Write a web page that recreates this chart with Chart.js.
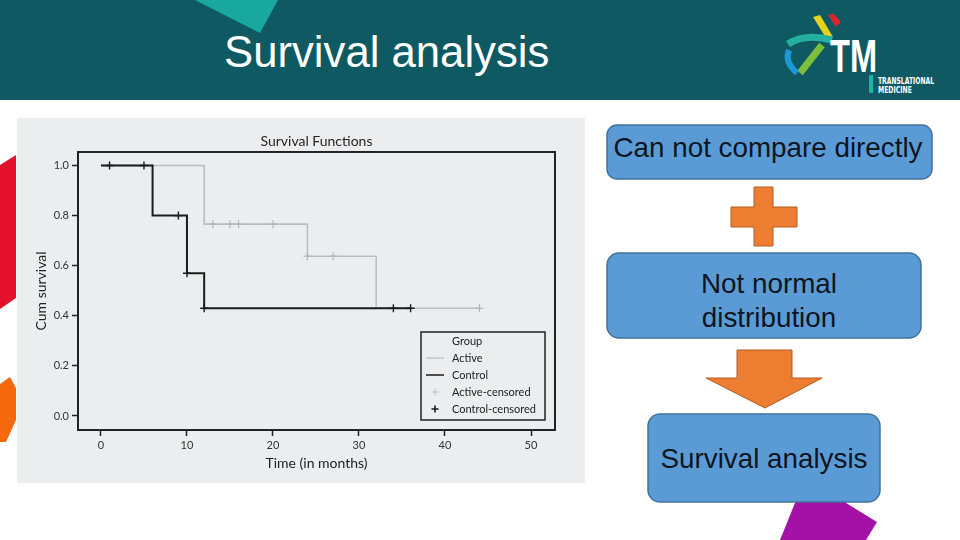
<!DOCTYPE html>
<html>
<head>
<meta charset="utf-8">
<script src="https://cdn.jsdelivr.net/npm/chart.js@4.4.1/dist/chart.umd.min.js"></script>
<style>
  html, body { margin: 0; padding: 0; background: #ffffff; }
  #page { position: relative; width: 960px; height: 540px; overflow: hidden; }
  #deco { position: absolute; left: 0; top: 0; }
  #kmChart { position: absolute; left: 17px; top: 118px; background: #ebedef; }
</style>
</head>
<body>
<div id="page">
  <svg id="deco" width="960" height="540" xmlns="http://www.w3.org/2000/svg">
    <!-- header -->
    <rect x="0" y="0" width="960" height="100" fill="#0f5a62"/>
    <polygon points="195,0 278,0 260,33" fill="#19a8a0"/>
    <text x="224" y="67" font-family="Liberation Sans, Arial, sans-serif" font-size="43.7" fill="#ffffff">Survival analysis</text>

    <!-- logo -->
    <polygon points="828,15 834,14 841,22 836,27" fill="#d8262e"/>
    <polygon points="813,17 820,15 833,37 826,38" fill="#e5d21c"/>
    <path d="M788,44 Q805,33 832,40" stroke="#23b0a0" stroke-width="7" fill="none"/>
    <path d="M822,45 L800,73" stroke="#7cbf3a" stroke-width="7" fill="none"/>
    <path d="M789,50 Q784,62 797,73" stroke="#1c9ad6" stroke-width="6" fill="none"/>
    <text x="830" y="72" font-family="Liberation Sans, Arial, sans-serif" font-weight="bold" font-size="46" textLength="47" lengthAdjust="spacingAndGlyphs" fill="#ffffff">TM</text>
    <rect x="869" y="75" width="4" height="18" fill="#1fb5a5"/>
    <text x="878" y="83.5" font-family="DejaVu Sans, sans-serif" font-weight="bold" font-size="8.5" textLength="56" lengthAdjust="spacingAndGlyphs" fill="#ffffff">TRANSLATIONAL</text>
    <text x="878" y="93" font-family="DejaVu Sans, sans-serif" font-weight="bold" font-size="8.5" textLength="34" lengthAdjust="spacingAndGlyphs" fill="#ffffff">MEDICINE</text>

    <!-- side shapes -->
    <polygon points="0,165 16,155 16,298 0,309" fill="#e3102e"/>
    <polygon points="0,384 10,377 16,388 16,420 6,442 0,442" fill="#f5690d"/>
    <polygon points="797,498 838,498 877,522 866,540 780,540" fill="#a411a6"/>

    <!-- flow chart -->
    <rect x="607" y="125" width="325" height="54" rx="10" fill="#5b9bd5" stroke="#41719c" stroke-width="1.5"/>
    <text x="768" y="157" text-anchor="middle" font-family="Liberation Sans, Arial, sans-serif" font-size="27.8" fill="#0d1522">Can not compare directly</text>

    <polygon points="754,187 773,187 773,207 797,207 797,227 773,227 773,246 754,246 754,227 731,227 731,207 754,207" fill="#ed7d31" stroke="#b35d22" stroke-width="1"/>

    <rect x="607" y="253" width="314" height="85" rx="12" fill="#5b9bd5" stroke="#41719c" stroke-width="1.5"/>
    <text x="769" y="293" text-anchor="middle" font-family="Liberation Sans, Arial, sans-serif" font-size="27.8" fill="#0d1522">Not normal</text>
    <text x="769" y="327" text-anchor="middle" font-family="Liberation Sans, Arial, sans-serif" font-size="27.8" fill="#0d1522">distribution</text>

    <polygon points="737,350 792,350 792,378 822,378 765,408 706,378 737,378" fill="#ed7d31" stroke="#b35d22" stroke-width="1"/>

    <rect x="648" y="414" width="232" height="88" rx="12" fill="#5b9bd5" stroke="#41719c" stroke-width="1.5"/>
    <text x="764" y="468" text-anchor="middle" font-family="Liberation Sans, Arial, sans-serif" font-size="27.8" fill="#0d1522">Survival analysis</text>
  </svg>

  <canvas id="kmChart" width="568" height="365"></canvas>
</div>

<script>
// Kaplan-Meier steps (time in months, cumulative survival)
const activeTimes = [0, 12, 24, 32, 44];
const activeSurv = [1.0, 0.766, 0.638, 0.43, 0.43];
const controlTimes = [0, 6, 10, 12, 36];
const controlSurv = [1.0, 0.80, 0.57, 0.43, 0.43];

// censored observations
const activeCensTimes = [13, 15, 16, 20, 24, 27, 44];
const activeCensSurv = [0.766, 0.766, 0.766, 0.766, 0.638, 0.638, 0.43];
const controlCensTimes = [1, 5, 9, 10, 12, 34, 36];
const controlCensSurv = [1.0, 1.0, 0.80, 0.57, 0.43, 0.43, 0.43];

const xTicks = [0, 10, 20, 30, 40, 50];
const yTicks = [0.0, 0.2, 0.4, 0.6, 0.8, 1.0];
const legendItems = ['Active', 'Control', 'Active-censored', 'Control-censored'];

const ACTIVE_COL = '#bdbdbd';
const CONTROL_COL = '#1c1c1c';
const FONT = 'Lato, "Open Sans", sans-serif';

function toPoints(xs, ys) {
    return xs.map(function (x, i) { return { x: x, y: ys[i] }; });
}

// box around the plot + legend
var framePlugin = {
    id: 'frame',
    afterDatasetsDraw: function (chart) {
        var ctx = chart.ctx;
        var a = chart.chartArea;
        ctx.save();
        ctx.strokeStyle = '#222';
        ctx.lineWidth = 2;
        ctx.strokeRect(a.left, a.top, a.right - a.left, a.bottom - a.top);

        // legend
        var w = 124, h = 88;
        var lx = a.right - 10 - w, ly = a.bottom - 10 - h;
        ctx.lineWidth = 1.5;
        ctx.strokeStyle = '#222';
        ctx.strokeRect(lx, ly, w, h);
        ctx.font = '11px ' + FONT;
        ctx.fillStyle = '#222';
        ctx.textBaseline = 'middle';
        ctx.fillText('Group', lx + 31, ly + 9);
        for (var i = 0; i < legendItems.length; i++) {
            var yy = ly + 26 + i * 17;
            ctx.fillText(legendItems[i], lx + 31, yy);
            var col = (i % 2 === 0) ? ACTIVE_COL : CONTROL_COL;
            ctx.strokeStyle = col;
            if (i < 2) {
                ctx.lineWidth = i === 0 ? 1.2 : 1.5;
                ctx.beginPath();
                ctx.moveTo(lx + 5, yy);
                ctx.lineTo(lx + 23, yy);
                ctx.stroke();
            } else {
                ctx.lineWidth = i === 2 ? 1 : 1.6;
                ctx.beginPath();
                ctx.moveTo(lx + 14, yy - 3.5);
                ctx.lineTo(lx + 14, yy + 3.5);
                ctx.moveTo(lx + 10.5, yy);
                ctx.lineTo(lx + 17.5, yy);
                ctx.stroke();
            }
        }
        ctx.restore();
    }
};

var ctx = document.getElementById('kmChart').getContext('2d');

var kmChart = new Chart(ctx, {
    type: 'line',
    data: {
        datasets: [{
            label: 'Active',
            data: toPoints(activeTimes, activeSurv),
            borderColor: ACTIVE_COL,
            borderWidth: 1.6,
            stepped: 'before',
            pointRadius: 0,
            fill: false,
            order: 3
        }, {
            label: 'Control',
            data: toPoints(controlTimes, controlSurv),
            borderColor: CONTROL_COL,
            borderWidth: 2,
            stepped: 'before',
            pointRadius: 0,
            fill: false,
            order: 2
        }, {
            label: 'Active-censored',
            data: toPoints(activeCensTimes, activeCensSurv),
            showLine: false,
            pointStyle: 'cross',
            pointRadius: 4,
            borderColor: '#b5b5b5',
            borderWidth: 1.2,
            order: 1
        }, {
            label: 'Control-censored',
            data: toPoints(controlCensTimes, controlCensSurv),
            showLine: false,
            pointStyle: 'cross',
            pointRadius: 4,
            borderColor: CONTROL_COL,
            borderWidth: 1.4,
            order: 0
        }]
    },
    options: {
        responsive: false,
        animation: false,
        layout: { padding: { left: 0, right: 30, top: 0, bottom: 0 } },
        plugins: {
            legend: { display: false },
            tooltip: { enabled: false },
            title: {
                display: true,
                fullSize: false,
                text: 'Survival Functions',
                color: '#2a2522',
                font: { family: FONT, size: 14, weight: 'normal' },
                padding: { top: 14.6, bottom: 2.6 }
            }
        },
        scales: {
            x: {
                type: 'linear',
                min: -2.67,
                max: 52.79,
                afterBuildTicks: function (scale) {
                    scale.ticks = xTicks.map(function (v) { return { value: v }; });
                },
                afterFit: function (scale) { scale.height = 53; },
                ticks: {
                    color: '#333',
                    font: { family: FONT, size: 11 },
                    padding: 3,
                    maxRotation: 0
                },
                grid: { drawOnChartArea: false, drawTicks: true, tickLength: 6, color: '#222', tickWidth: 1.5 },
                border: { display: true, color: '#222', width: 2 },
                title: {
                    display: true,
                    text: 'Time (in months)',
                    color: '#222',
                    font: { family: FONT, size: 14 },
                    padding: { top: 0, bottom: 11.6 }
                }
            },
            y: {
                type: 'linear',
                min: -0.056,
                max: 1.054,
                afterBuildTicks: function (scale) {
                    scale.ticks = yTicks.map(function (v) { return { value: v }; });
                },
                afterFit: function (scale) { scale.width = 61; },
                ticks: {
                    color: '#333',
                    font: { family: FONT, size: 11 },
                    padding: 3,
                    callback: function (v) { return v.toFixed(1); }
                },
                grid: { drawOnChartArea: false, drawTicks: true, tickLength: 6, color: '#222', tickWidth: 1.5 },
                border: { display: true, color: '#222', width: 2 },
                title: {
                    display: true,
                    text: 'Cum survival',
                    color: '#222',
                    font: { family: FONT, size: 14 },
                    padding: { top: 16.1, bottom: 0 }
                }
            }
        }
    },
    plugins: [framePlugin]
});
</script>
</body>
</html>
